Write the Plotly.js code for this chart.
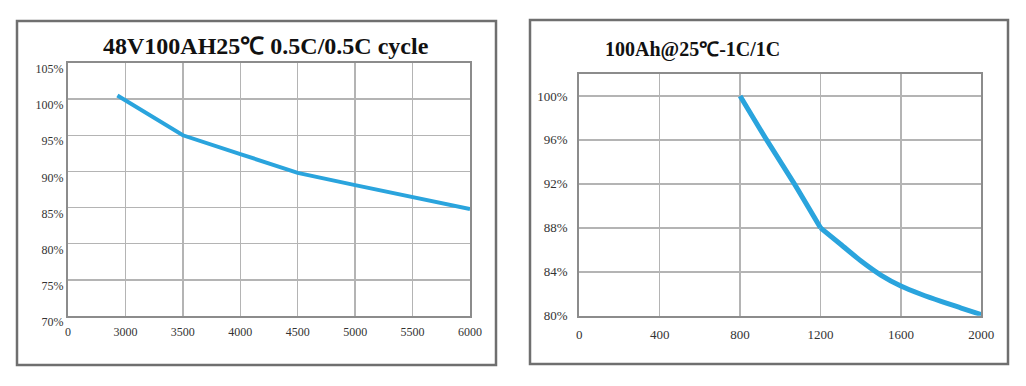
<!DOCTYPE html>
<html>
<head>
<meta charset="utf-8">
<script src="https://cdn.plot.ly/plotly-3.0.1.min.js"></script>
<style>html,body{margin:0;padding:0;background:#fff}#chart{width:1026px;height:386px}</style>
</head>
<body>
<div id="chart"></div>
<script>
// Left chart: 48V100AH 0.5C/0.5C cycle
const leftTitle = "48V100AH25℃ 0.5C/0.5C cycle";
const leftCycles = [2930, 3500, 4000, 4500, 5000, 5500, 6000];
const leftCapacity = [100.5, 95.0, 92.4, 89.8, 88.1, 86.4, 84.8];
const leftTickVals = [2500, 3000, 3500, 4000, 4500, 5000, 5500, 6000];
const leftTickText = ["0", "3000", "3500", "4000", "4500", "5000", "5500", "6000"];
const leftYTicks = [70, 75, 80, 85, 90, 95, 100, 105];

// Right chart: 100Ah 1C/1C
const rightTitle = "100Ah@25℃-1C/1C";
const rightSteepCycles = [800, 932, 1070, 1200];
const rightSteepCapacity = [100, 96, 92, 88];
const rightTailCycles = [1200, 1300, 1400, 1500, 1600, 1700, 1800, 1900, 2000];
const rightTailCapacity = [88, 86.5, 85.0, 83.7, 82.7, 81.95, 81.3, 80.7, 80.1];
const rightXTicks = [0, 400, 800, 1200, 1600, 2000];
const rightYTicks = [80, 84, 88, 92, 96, 100];

const W = 1026, H = 386;
const px = x => x / W;
const py = y => 1 - y / H;
const lineColor = '#2aa4dd';
const serif = '"Liberation Serif", "Times New Roman", serif';
const tickFont = {family: serif, size: 12, color: '#333'};
const axisCommon = {
  showline: true, mirror: true, linecolor: '#8c8c8c', linewidth: 2,
  showgrid: true, gridcolor: '#b4b4b4', gridwidth: 1.5,
  zeroline: false, ticks: '', fixedrange: true, tickfont: tickFont
};

const data = [
  {x: leftCycles, y: leftCapacity, xaxis: 'x', yaxis: 'y', mode: 'lines',
   line: {color: lineColor, width: 4}, hoverinfo: 'skip'},
  {x: rightSteepCycles, y: rightSteepCapacity, xaxis: 'x2', yaxis: 'y2', mode: 'lines',
   line: {color: lineColor, width: 5, shape: 'spline', smoothing: 0.6}, hoverinfo: 'skip'},
  {x: rightTailCycles, y: rightTailCapacity, xaxis: 'x2', yaxis: 'y2', mode: 'lines',
   line: {color: lineColor, width: 5, shape: 'spline', smoothing: 0.8}, hoverinfo: 'skip'}
];

const layout = {
  width: W, height: H,
  margin: {l: 0, r: 0, t: 0, b: 0},
  paper_bgcolor: '#fff', plot_bgcolor: '#fff',
  showlegend: false,
  xaxis: Object.assign({}, axisCommon, {
    domain: [px(68), px(470)], range: [2500, 6000],
    tickmode: 'array', tickvals: leftTickVals, ticktext: leftTickText,
    anchor: 'y', ticklabelstandoff: 4
  }),
  yaxis: Object.assign({}, axisCommon, {
    domain: [py(316), py(63)], range: [70, 105],
    tickmode: 'array', tickvals: leftYTicks, ticktext: leftYTicks.map(v => v + '%'),
    anchor: 'x', ticklabelshift: 6, ticklabelstandoff: 0
  }),
  xaxis2: Object.assign({}, axisCommon, {
    domain: [px(579.3), px(981.3)], range: [0, 2000],
    tickmode: 'array', tickvals: rightXTicks, ticktext: rightXTicks.map(String),
    anchor: 'y2', ticklabelstandoff: 6, tickfont: Object.assign({}, tickFont, {size: 13})
  }),
  yaxis2: Object.assign({}, axisCommon, {
    domain: [py(315.7), py(74)], range: [80, 102],
    tickmode: 'array', tickvals: rightYTicks, ticktext: rightYTicks.map(v => v + '%'),
    anchor: 'x2', ticklabelstandoff: 7, tickfont: Object.assign({}, tickFont, {size: 13})
  }),
  annotations: [
    {text: '<b>' + leftTitle + '</b>', xref: 'paper', yref: 'paper',
     x: px(266), y: py(46), xanchor: 'center', yanchor: 'middle', showarrow: false,
     font: {family: serif, size: 24, color: '#111'}},
    {text: '<b>' + rightTitle + '</b>', xref: 'paper', yref: 'paper',
     x: px(603), y: py(49), xanchor: 'left', yanchor: 'middle', showarrow: false,
     font: {family: serif, size: 20, color: '#111'}}
  ],
  shapes: [
    {type: 'rect', xref: 'paper', yref: 'paper', x0: px(17), x1: px(496), y0: py(365), y1: py(21),
     line: {color: '#6f6f6f', width: 2.5}},
    {type: 'rect', xref: 'paper', yref: 'paper', x0: px(530), x1: px(1008), y0: py(364), y1: py(20),
     line: {color: '#6f6f6f', width: 2.5}}
  ]
};

Plotly.newPlot('chart', data, layout, {staticPlot: true, displayModeBar: false});
</script>
</body>
</html>
